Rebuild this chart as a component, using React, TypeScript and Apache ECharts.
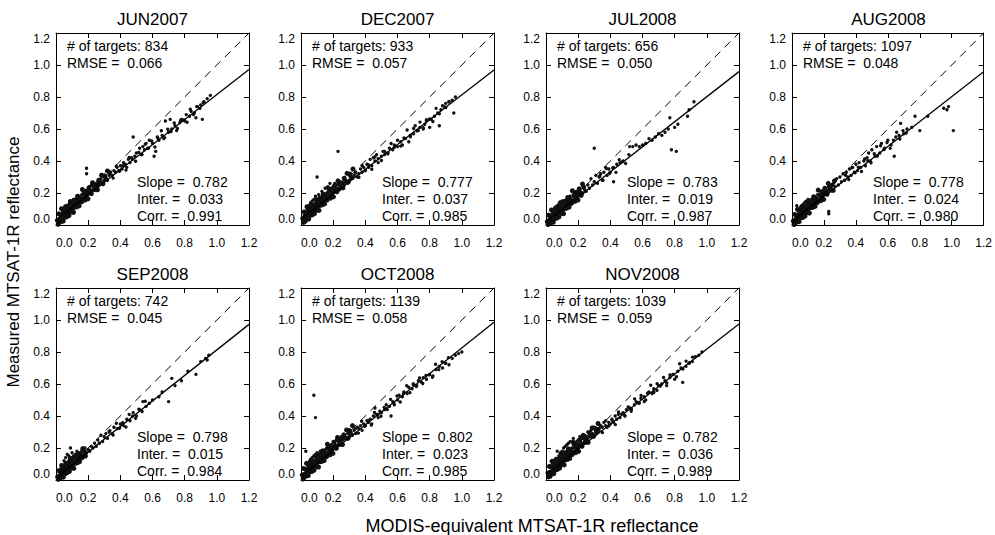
import React, { useEffect, useRef } from "react";
import * as echarts from "echarts";

// ---- data ----
const panelTitles = ["JUN2007", "DEC2007", "JUL2008", "AUG2008", "SEP2008", "OCT2008", "NOV2008"];
const targetCounts = [834, 933, 656, 1097, 742, 1139, 1039];
const rmseValues = [0.066, 0.057, 0.05, 0.048, 0.045, 0.058, 0.059];
const slopeValues = [0.782, 0.777, 0.783, 0.778, 0.798, 0.802, 0.782];
const interValues = [0.033, 0.037, 0.019, 0.024, 0.015, 0.023, 0.036];
const corrValues = [0.991, 0.985, 0.987, 0.98, 0.984, 0.985, 0.989];

const axisMin = 0;
const axisMax = 1.2;
const axisStep = 0.2;

const xTitle = "MODIS-equivalent MTSAT-1R reflectance";
const yTitle = "Measured MTSAT-1R reflectance";

// dense low-reflectance clusters (many overlapping targets)
const jun2007Dense = [[0.008,0.029],[0.013,0.004],[0.017,0.070],[0.022,0.033],[0.026,0.019],[0.029,0.064],[0.034,0.102],[0.037,0.035],[0.041,0.066],[0.045,0.025],[0.048,0.087],[0.052,0.064],[0.056,0.049],[0.059,0.115],[0.063,0.089],[0.067,0.051],[0.070,0.113],[0.074,0.074],[0.078,0.095],[0.081,0.059],[0.085,0.117],[0.089,0.147],[0.093,0.095],[0.097,0.081],[0.101,0.126],[0.105,0.114],[0.109,0.079],[0.113,0.155],[0.117,0.133],[0.121,0.113],[0.126,0.159],[0.130,0.114],[0.135,0.180],[0.139,0.140],[0.144,0.120],[0.149,0.171],[0.154,0.160],[0.159,0.144],[0.164,0.222],[0.169,0.160],[0.175,0.189],[0.181,0.156],[0.187,0.211],[0.193,0.198],[0.199,0.164],[0.206,0.234],[0.213,0.210],[0.220,0.196],[0.227,0.264],[0.234,0.245],[0.242,0.221],[0.250,0.252],[0.258,0.220],[0.266,0.280],[0.274,0.261],[0.283,0.311],[0.292,0.258],[0.301,0.307],[0.310,0.285],[0.320,0.338]];
const dec2007Dense = [[0.011,0.041],[0.016,0.016],[0.020,0.082],[0.025,0.045],[0.029,0.031],[0.032,0.076],[0.037,0.114],[0.040,0.047],[0.044,0.078],[0.048,0.037],[0.051,0.099],[0.055,0.076],[0.059,0.061],[0.062,0.127],[0.066,0.101],[0.070,0.063],[0.073,0.125],[0.077,0.086],[0.081,0.107],[0.084,0.071],[0.088,0.129],[0.092,0.159],[0.096,0.107],[0.100,0.093],[0.104,0.138],[0.108,0.126],[0.112,0.091],[0.116,0.167],[0.120,0.145],[0.124,0.125],[0.129,0.171],[0.133,0.126],[0.138,0.192],[0.142,0.152],[0.147,0.132],[0.152,0.183],[0.157,0.172],[0.162,0.156],[0.167,0.234],[0.172,0.172],[0.178,0.201],[0.184,0.168],[0.190,0.223],[0.196,0.210],[0.202,0.176],[0.209,0.246],[0.216,0.222],[0.223,0.208],[0.230,0.276],[0.237,0.257],[0.245,0.233],[0.253,0.264],[0.261,0.232],[0.269,0.292],[0.277,0.273],[0.286,0.323],[0.295,0.270],[0.304,0.319],[0.313,0.297],[0.323,0.350]];
const jul2008Dense = [[0.008,0.021],[0.013,0.003],[0.017,0.062],[0.022,0.025],[0.026,0.011],[0.029,0.056],[0.034,0.094],[0.037,0.027],[0.041,0.058],[0.045,0.017],[0.048,0.079],[0.052,0.056],[0.056,0.041],[0.059,0.107],[0.063,0.081],[0.067,0.043],[0.070,0.105],[0.074,0.066],[0.078,0.087],[0.081,0.051],[0.085,0.109],[0.089,0.139],[0.093,0.087],[0.097,0.073],[0.101,0.118],[0.105,0.106],[0.109,0.071],[0.113,0.147],[0.117,0.125],[0.121,0.105],[0.126,0.151],[0.130,0.106],[0.135,0.172],[0.139,0.132],[0.144,0.112],[0.149,0.163],[0.154,0.152],[0.159,0.136],[0.164,0.214],[0.169,0.152],[0.175,0.181],[0.181,0.148],[0.187,0.203],[0.193,0.190],[0.199,0.156],[0.206,0.226],[0.213,0.202],[0.220,0.188],[0.227,0.256],[0.234,0.237]];
const aug2008Dense = [[0.008,0.025],[0.013,0.003],[0.017,0.066],[0.022,0.029],[0.026,0.015],[0.029,0.060],[0.034,0.098],[0.037,0.031],[0.041,0.062],[0.045,0.021],[0.048,0.083],[0.052,0.060],[0.056,0.045],[0.059,0.111],[0.063,0.085],[0.067,0.047],[0.070,0.109],[0.074,0.070],[0.078,0.091],[0.081,0.055],[0.085,0.113],[0.089,0.143],[0.093,0.091],[0.097,0.077],[0.101,0.122],[0.105,0.110],[0.109,0.075],[0.113,0.151],[0.117,0.129],[0.121,0.109],[0.126,0.155],[0.130,0.110],[0.135,0.176],[0.139,0.136],[0.144,0.116],[0.149,0.167],[0.154,0.156],[0.159,0.140],[0.164,0.218],[0.169,0.156],[0.175,0.185],[0.181,0.152],[0.187,0.207],[0.193,0.194],[0.199,0.160],[0.206,0.230],[0.213,0.206],[0.220,0.192],[0.227,0.260],[0.234,0.241],[0.242,0.217],[0.250,0.248],[0.258,0.216],[0.266,0.276]];
const sep2008Dense = [[0.010,0.019],[0.014,0.004],[0.018,0.058],[0.023,0.027],[0.027,0.012],[0.031,0.053],[0.035,0.091],[0.038,0.029],[0.042,0.061],[0.046,0.018],[0.049,0.076],[0.053,0.058],[0.057,0.039],[0.061,0.103],[0.064,0.083],[0.068,0.045],[0.072,0.101],[0.075,0.068],[0.079,0.085],[0.083,0.053],[0.087,0.106],[0.090,0.134],[0.094,0.089],[0.098,0.075],[0.103,0.115],[0.107,0.104],[0.111,0.073],[0.115,0.142],[0.119,0.122],[0.123,0.107],[0.128,0.147],[0.132,0.108],[0.137,0.166],[0.141,0.130],[0.146,0.114],[0.151,0.158],[0.156,0.149],[0.161,0.138],[0.166,0.196],[0.171,0.150],[0.177,0.176],[0.183,0.150]];
const oct2008Dense = [[0.008,0.031],[0.013,0.006],[0.017,0.072],[0.022,0.035],[0.026,0.021],[0.029,0.066],[0.034,0.104],[0.037,0.037],[0.041,0.068],[0.045,0.027],[0.048,0.089],[0.052,0.066],[0.056,0.051],[0.059,0.117],[0.063,0.091],[0.067,0.053],[0.070,0.115],[0.074,0.076],[0.078,0.097],[0.081,0.061],[0.085,0.119],[0.089,0.149],[0.093,0.097],[0.097,0.083],[0.101,0.128],[0.105,0.116],[0.109,0.081],[0.113,0.157],[0.117,0.135],[0.121,0.115],[0.126,0.161],[0.130,0.116],[0.135,0.182],[0.139,0.142],[0.144,0.122],[0.149,0.173],[0.154,0.162],[0.159,0.146],[0.164,0.224],[0.169,0.162],[0.175,0.191],[0.181,0.158],[0.187,0.213],[0.193,0.200],[0.199,0.166],[0.206,0.236],[0.213,0.212],[0.220,0.198],[0.227,0.266],[0.234,0.247],[0.242,0.223],[0.250,0.254],[0.258,0.222],[0.266,0.282],[0.274,0.263],[0.283,0.313],[0.292,0.260],[0.301,0.309],[0.310,0.287],[0.320,0.340]];
const nov2008Dense = [[0.012,0.044],[0.017,0.019],[0.021,0.085],[0.026,0.048],[0.030,0.034],[0.033,0.079],[0.038,0.117],[0.041,0.050],[0.045,0.081],[0.049,0.040],[0.052,0.102],[0.056,0.079],[0.060,0.064],[0.063,0.130],[0.067,0.104],[0.071,0.066],[0.074,0.128],[0.078,0.089],[0.082,0.110],[0.085,0.074],[0.089,0.132],[0.093,0.162],[0.097,0.110],[0.101,0.096],[0.105,0.141],[0.109,0.129],[0.113,0.094],[0.117,0.170],[0.121,0.148],[0.125,0.128],[0.130,0.174],[0.134,0.129],[0.139,0.195],[0.143,0.155],[0.148,0.135],[0.153,0.186],[0.158,0.175],[0.163,0.159],[0.168,0.237],[0.173,0.175],[0.179,0.204],[0.185,0.171],[0.191,0.226],[0.197,0.213],[0.203,0.179],[0.210,0.249],[0.217,0.225],[0.224,0.211],[0.231,0.279],[0.238,0.260],[0.246,0.236],[0.254,0.267],[0.262,0.235],[0.270,0.295],[0.278,0.276],[0.287,0.326],[0.296,0.273],[0.305,0.322],[0.314,0.300],[0.324,0.353]];

// individual targets
const jun2007 = [[0.335,0.320],[0.355,0.293],[0.375,0.367],[0.395,0.336],[0.415,0.370],[0.435,0.343],[0.455,0.422],[0.475,0.410],[0.495,0.398],[0.515,0.454],[0.535,0.440],[0.555,0.504],[0.575,0.480],[0.595,0.525],[0.615,0.488],[0.635,0.539],[0.655,0.589],[0.675,0.546],[0.695,0.598],[0.715,0.584],[0.735,0.638],[0.755,0.603],[0.775,0.653],[0.795,0.657],[0.815,0.642],[0.835,0.724],[0.855,0.690],[0.875,0.740],[0.895,0.729],[0.915,0.765],
[0.01,0.02],[0.02,0.01],[0.02,0.04],[0.03,0.03],[0.03,0.06],[0.04,0.02],[0.04,0.05],[0.04,0.08],[0.05,0.04],[0.05,0.07],[0.05,0.10],[0.06,0.05],[0.06,0.08],[0.06,0.11],[0.07,0.06],[0.07,0.09],[0.07,0.12],[0.08,0.07],[0.08,0.10],[0.08,0.13],[0.09,0.08],[0.09,0.11],[0.09,0.14],[0.10,0.09],[0.10,0.12],[0.10,0.15],[0.11,0.10],[0.11,0.13],[0.11,0.16],[0.12,0.11],[0.12,0.14],[0.13,0.12],[0.13,0.15],[0.13,0.18],[0.14,0.13],[0.14,0.16],[0.15,0.14],[0.15,0.17],[0.16,0.15],[0.16,0.19],[0.17,0.16],[0.17,0.20],[0.18,0.17],[0.18,0.21],[0.19,0.18],[0.19,0.32],[0.19,0.355],[0.20,0.19],[0.20,0.23],[0.21,0.20],[0.21,0.24],[0.22,0.21],[0.22,0.25],[0.23,0.22],[0.24,0.23],[0.24,0.26],[0.25,0.24],[0.26,0.23],[0.26,0.27],[0.27,0.25],[0.28,0.26],[0.28,0.29],[0.29,0.27],[0.30,0.28],[0.31,0.30],[0.32,0.28],[0.33,0.31],[0.34,0.33],[0.35,0.31],[0.36,0.34],[0.37,0.33],[0.38,0.36],[0.39,0.34],[0.40,0.37],[0.41,0.35],[0.42,0.39],[0.43,0.38],[0.44,0.36],[0.45,0.41],[0.46,0.39],[0.47,0.42],[0.48,0.55],[0.49,0.43],[0.50,0.45],[0.52,0.48],[0.53,0.44],[0.54,0.49],[0.55,0.47],[0.56,0.51],[0.57,0.48],[0.58,0.53],[0.60,0.51],[0.61,0.43],[0.62,0.46],[0.63,0.55],[0.64,0.53],[0.66,0.56],[0.67,0.54],[0.68,0.65],[0.70,0.58],[0.71,0.66],[0.72,0.60],[0.74,0.62],[0.75,0.59],[0.77,0.64],[0.78,0.66],[0.80,0.65],[0.81,0.69],[0.83,0.68],[0.84,0.71],[0.86,0.70],[0.87,0.67],[0.88,0.74],[0.90,0.75],[0.91,0.66],[0.92,0.77],[0.94,0.79],[0.96,0.81]];

const dec2007 = [[0.34,0.325],[0.36,0.298],[0.38,0.372],[0.40,0.341],[0.42,0.375],[0.44,0.348],[0.46,0.427],[0.48,0.415],[0.50,0.403],[0.52,0.459],[0.54,0.445],[0.56,0.509],[0.58,0.485],[0.60,0.530],[0.62,0.493],[0.64,0.544],[0.66,0.594],[0.68,0.551],[0.70,0.603],[0.72,0.589],[0.74,0.643],[0.76,0.608],[0.78,0.658],[0.80,0.662],[0.82,0.647],[0.84,0.729],[0.86,0.695],[0.88,0.745],[0.90,0.734],[0.92,0.770],
[0.01,0.02],[0.02,0.03],[0.02,0.06],[0.03,0.02],[0.03,0.05],[0.03,0.08],[0.04,0.04],[0.04,0.07],[0.04,0.10],[0.05,0.05],[0.05,0.08],[0.05,0.12],[0.06,0.06],[0.06,0.10],[0.06,0.14],[0.07,0.07],[0.07,0.11],[0.07,0.15],[0.08,0.08],[0.08,0.12],[0.08,0.16],[0.09,0.09],[0.09,0.13],[0.09,0.18],[0.10,0.10],[0.10,0.14],[0.10,0.30],[0.11,0.11],[0.11,0.15],[0.11,0.19],[0.12,0.12],[0.12,0.16],[0.13,0.13],[0.13,0.17],[0.13,0.21],[0.14,0.14],[0.14,0.18],[0.15,0.15],[0.15,0.19],[0.15,0.23],[0.16,0.16],[0.16,0.20],[0.17,0.17],[0.17,0.21],[0.18,0.18],[0.18,0.22],[0.18,0.26],[0.19,0.19],[0.19,0.23],[0.20,0.20],[0.20,0.24],[0.21,0.21],[0.21,0.26],[0.22,0.22],[0.22,0.25],[0.23,0.23],[0.23,0.46],[0.24,0.22],[0.24,0.27],[0.25,0.24],[0.26,0.26],[0.27,0.25],[0.27,0.29],[0.28,0.27],[0.29,0.26],[0.30,0.28],[0.30,0.31],[0.32,0.29],[0.33,0.31],[0.34,0.33],[0.35,0.30],[0.36,0.32],[0.37,0.35],[0.38,0.33],[0.39,0.36],[0.40,0.34],[0.41,0.38],[0.42,0.36],[0.43,0.41],[0.44,0.37],[0.45,0.42],[0.46,0.40],[0.47,0.44],[0.48,0.39],[0.50,0.43],[0.51,0.46],[0.52,0.44],[0.54,0.45],[0.55,0.48],[0.57,0.47],[0.58,0.50],[0.60,0.49],[0.62,0.52],[0.63,0.50],[0.65,0.54],[0.67,0.52],[0.68,0.56],[0.70,0.57],[0.71,0.62],[0.73,0.59],[0.74,0.61],[0.76,0.60],[0.77,0.63],[0.78,0.65],[0.80,0.61],[0.81,0.66],[0.83,0.68],[0.85,0.70],[0.86,0.62],[0.87,0.72],[0.89,0.74],[0.90,0.76],[0.92,0.77],[0.94,0.78],[0.95,0.70],[0.96,0.80]];

const jul2008 = [[0.335,0.306],[0.355,0.279],[0.375,0.353],[0.395,0.322],[0.415,0.356],[0.435,0.329],[0.455,0.408],[0.475,0.396],[0.495,0.384],[0.515,0.440],
[0.01,0.01],[0.02,0.02],[0.02,0.04],[0.03,0.01],[0.03,0.03],[0.03,0.06],[0.04,0.02],[0.04,0.05],[0.04,0.08],[0.05,0.03],[0.05,0.06],[0.05,0.09],[0.06,0.04],[0.06,0.07],[0.06,0.10],[0.07,0.05],[0.07,0.08],[0.07,0.12],[0.08,0.06],[0.08,0.09],[0.08,0.13],[0.09,0.07],[0.09,0.10],[0.09,0.14],[0.10,0.08],[0.10,0.11],[0.10,0.15],[0.11,0.09],[0.11,0.13],[0.12,0.10],[0.12,0.14],[0.13,0.11],[0.13,0.16],[0.14,0.12],[0.14,0.17],[0.15,0.13],[0.15,0.18],[0.16,0.14],[0.17,0.15],[0.17,0.19],[0.18,0.16],[0.19,0.17],[0.19,0.21],[0.20,0.18],[0.21,0.19],[0.21,0.22],[0.22,0.18],[0.23,0.20],[0.24,0.22],[0.25,0.21],[0.26,0.25],[0.27,0.23],[0.28,0.29],[0.29,0.25],[0.30,0.48],[0.30,0.27],[0.31,0.31],[0.32,0.26],[0.33,0.30],[0.34,0.32],[0.35,0.28],[0.36,0.33],[0.37,0.36],[0.38,0.31],[0.39,0.35],[0.40,0.33],[0.42,0.27],[0.42,0.36],[0.44,0.38],[0.46,0.39],[0.48,0.40],[0.52,0.49],[0.54,0.49],[0.56,0.50],[0.58,0.49],[0.60,0.50],[0.62,0.51],[0.64,0.54],[0.66,0.53],[0.68,0.55],[0.70,0.57],[0.72,0.56],[0.74,0.58],[0.76,0.60],[0.77,0.67],[0.78,0.47],[0.80,0.61],[0.81,0.46],[0.82,0.63],[0.88,0.68],[0.89,0.72],[0.92,0.77]];

const aug2008 = [[0.335,0.311],[0.355,0.284],[0.375,0.358],[0.395,0.327],[0.415,0.361],[0.435,0.334],[0.455,0.413],[0.475,0.401],[0.495,0.389],[0.515,0.445],[0.535,0.431],[0.555,0.495],[0.575,0.471],[0.595,0.516],[0.615,0.479],[0.635,0.530],[0.655,0.580],[0.675,0.537],[0.695,0.589],[0.715,0.575],
[0.01,0.01],[0.02,0.02],[0.02,0.04],[0.03,0.02],[0.03,0.05],[0.03,0.12],[0.04,0.03],[0.04,0.06],[0.04,0.09],[0.05,0.04],[0.05,0.07],[0.05,0.10],[0.06,0.05],[0.06,0.08],[0.06,0.12],[0.07,0.06],[0.07,0.09],[0.07,0.13],[0.08,0.07],[0.08,0.10],[0.08,0.14],[0.09,0.08],[0.09,0.12],[0.10,0.09],[0.10,0.13],[0.10,0.16],[0.11,0.10],[0.11,0.14],[0.12,0.11],[0.12,0.15],[0.13,0.12],[0.13,0.16],[0.14,0.13],[0.14,0.18],[0.15,0.14],[0.15,0.17],[0.16,0.15],[0.16,0.19],[0.17,0.16],[0.18,0.17],[0.18,0.21],[0.19,0.18],[0.20,0.19],[0.20,0.22],[0.21,0.20],[0.22,0.21],[0.23,0.07],[0.23,0.085],[0.23,0.22],[0.24,0.24],[0.25,0.22],[0.26,0.26],[0.27,0.24],[0.28,0.29],[0.29,0.25],[0.30,0.30],[0.31,0.27],[0.32,0.32],[0.33,0.28],[0.34,0.33],[0.35,0.30],[0.36,0.35],[0.37,0.31],[0.38,0.36],[0.39,0.33],[0.40,0.38],[0.41,0.34],[0.42,0.39],[0.43,0.36],[0.45,0.40],[0.46,0.37],[0.47,0.42],[0.48,0.45],[0.49,0.40],[0.50,0.47],[0.52,0.43],[0.53,0.49],[0.55,0.45],[0.56,0.51],[0.58,0.48],[0.60,0.53],[0.62,0.50],[0.64,0.43],[0.65,0.55],[0.67,0.56],[0.68,0.635],[0.70,0.57],[0.72,0.60],[0.75,0.61],[0.77,0.68],[0.80,0.59],[0.85,0.68],[0.95,0.73],[0.97,0.72],[0.98,0.74],[1.01,0.59]];

const sep2008 = [[0.335,0.308],[0.355,0.281],[0.375,0.355],[0.395,0.324],[0.415,0.358],[0.435,0.331],[0.455,0.410],[0.475,0.398],[0.495,0.386],[0.515,0.442],[0.535,0.428],[0.555,0.492],
[0.01,0.01],[0.02,0.01],[0.02,0.03],[0.03,0.02],[0.03,0.04],[0.03,0.07],[0.04,0.02],[0.04,0.05],[0.04,0.08],[0.05,0.03],[0.05,0.06],[0.05,0.09],[0.05,0.12],[0.06,0.04],[0.06,0.07],[0.06,0.10],[0.06,0.14],[0.07,0.05],[0.07,0.08],[0.07,0.11],[0.07,0.16],[0.08,0.06],[0.08,0.09],[0.08,0.12],[0.08,0.15],[0.09,0.07],[0.09,0.10],[0.09,0.13],[0.09,0.20],[0.10,0.08],[0.10,0.11],[0.10,0.14],[0.10,0.17],[0.11,0.09],[0.11,0.12],[0.11,0.15],[0.12,0.10],[0.12,0.13],[0.12,0.16],[0.13,0.11],[0.13,0.14],[0.13,0.18],[0.14,0.12],[0.14,0.15],[0.15,0.13],[0.15,0.17],[0.16,0.14],[0.16,0.18],[0.17,0.15],[0.18,0.16],[0.18,0.20],[0.19,0.17],[0.20,0.19],[0.21,0.18],[0.22,0.21],[0.23,0.20],[0.24,0.23],[0.25,0.21],[0.26,0.25],[0.27,0.23],[0.28,0.28],[0.29,0.24],[0.30,0.27],[0.31,0.29],[0.32,0.26],[0.33,0.30],[0.35,0.29],[0.36,0.33],[0.38,0.32],[0.40,0.35],[0.42,0.34],[0.44,0.38],[0.46,0.37],[0.48,0.42],[0.50,0.40],[0.52,0.44],[0.54,0.49],[0.56,0.46],[0.58,0.48],[0.60,0.50],[0.64,0.52],[0.66,0.55],[0.70,0.49],[0.72,0.635],[0.74,0.59],[0.78,0.62],[0.82,0.68],[0.87,0.66],[0.90,0.74],[0.93,0.76],[0.94,0.75],[0.95,0.78]];

const oct2008 = [[0.337,0.320],[0.357,0.293],[0.377,0.367],[0.397,0.336],[0.417,0.370],[0.437,0.343],[0.457,0.422],[0.477,0.410],[0.497,0.398],[0.517,0.454],[0.537,0.440],[0.557,0.504],[0.577,0.480],[0.597,0.525],[0.617,0.488],[0.637,0.539],[0.657,0.589],[0.677,0.546],[0.697,0.598],[0.717,0.584],[0.737,0.638],[0.757,0.603],[0.777,0.653],[0.797,0.657],[0.817,0.642],[0.837,0.724],[0.857,0.690],[0.877,0.740],[0.897,0.729],[0.917,0.765],
[0.01,0.02],[0.02,0.01],[0.02,0.04],[0.03,0.03],[0.03,0.06],[0.03,0.18],[0.04,0.04],[0.04,0.07],[0.04,0.10],[0.05,0.05],[0.05,0.08],[0.05,0.11],[0.06,0.06],[0.06,0.09],[0.06,0.13],[0.07,0.07],[0.07,0.10],[0.07,0.14],[0.08,0.08],[0.08,0.11],[0.08,0.15],[0.08,0.53],[0.09,0.09],[0.09,0.12],[0.09,0.16],[0.09,0.39],[0.10,0.10],[0.10,0.13],[0.10,0.17],[0.11,0.11],[0.11,0.14],[0.12,0.12],[0.12,0.15],[0.12,0.18],[0.13,0.13],[0.13,0.16],[0.14,0.14],[0.14,0.18],[0.15,0.15],[0.15,0.19],[0.16,0.16],[0.16,0.20],[0.17,0.17],[0.17,0.21],[0.18,0.18],[0.19,0.19],[0.19,0.22],[0.20,0.20],[0.20,0.24],[0.21,0.21],[0.22,0.20],[0.22,0.25],[0.23,0.22],[0.24,0.24],[0.25,0.23],[0.25,0.27],[0.26,0.25],[0.27,0.28],[0.28,0.26],[0.29,0.29],[0.30,0.27],[0.31,0.30],[0.32,0.28],[0.33,0.31],[0.34,0.29],[0.35,0.33],[0.36,0.32],[0.37,0.34],[0.38,0.31],[0.39,0.35],[0.40,0.34],[0.41,0.37],[0.42,0.36],[0.43,0.38],[0.44,0.35],[0.45,0.40],[0.46,0.45],[0.47,0.41],[0.48,0.39],[0.49,0.43],[0.50,0.42],[0.52,0.44],[0.53,0.47],[0.55,0.46],[0.56,0.40],[0.57,0.49],[0.58,0.47],[0.60,0.50],[0.61,0.53],[0.63,0.52],[0.64,0.55],[0.66,0.54],[0.67,0.58],[0.69,0.57],[0.70,0.60],[0.72,0.59],[0.73,0.62],[0.75,0.61],[0.76,0.64],[0.78,0.63],[0.80,0.66],[0.82,0.65],[0.84,0.69],[0.86,0.71],[0.88,0.70],[0.90,0.73],[0.92,0.72],[0.94,0.76],[0.96,0.78],[0.98,0.79],[1.00,0.80]];

const nov2008 = [[0.331,0.323],[0.351,0.296],[0.371,0.370],[0.391,0.339],[0.411,0.373],[0.431,0.346],[0.451,0.425],[0.471,0.413],[0.491,0.401],[0.511,0.457],[0.531,0.443],[0.551,0.507],[0.571,0.483],[0.591,0.528],[0.611,0.491],[0.631,0.542],[0.651,0.592],[0.671,0.549],[0.691,0.601],[0.711,0.587],[0.731,0.641],[0.751,0.606],[0.771,0.656],[0.791,0.660],[0.811,0.645],[0.831,0.727],[0.851,0.693],[0.871,0.743],[0.891,0.732],[0.911,0.768],
[0.01,0.02],[0.02,0.03],[0.02,0.05],[0.03,0.02],[0.03,0.05],[0.03,0.08],[0.04,0.04],[0.04,0.07],[0.04,0.10],[0.05,0.05],[0.05,0.08],[0.05,0.12],[0.06,0.06],[0.06,0.09],[0.06,0.13],[0.07,0.07],[0.07,0.11],[0.07,0.18],[0.08,0.08],[0.08,0.12],[0.08,0.15],[0.09,0.09],[0.09,0.13],[0.09,0.17],[0.10,0.10],[0.10,0.14],[0.10,0.18],[0.11,0.11],[0.11,0.15],[0.11,0.20],[0.12,0.12],[0.12,0.16],[0.12,0.21],[0.13,0.13],[0.13,0.17],[0.13,0.22],[0.14,0.14],[0.14,0.18],[0.14,0.23],[0.15,0.15],[0.15,0.19],[0.15,0.24],[0.16,0.16],[0.16,0.20],[0.17,0.17],[0.17,0.22],[0.17,0.26],[0.18,0.18],[0.18,0.23],[0.19,0.19],[0.19,0.24],[0.20,0.20],[0.20,0.25],[0.21,0.21],[0.21,0.27],[0.22,0.22],[0.22,0.26],[0.23,0.23],[0.24,0.24],[0.24,0.28],[0.25,0.25],[0.26,0.26],[0.26,0.30],[0.27,0.27],[0.28,0.28],[0.28,0.31],[0.29,0.29],[0.30,0.28],[0.30,0.33],[0.31,0.30],[0.32,0.32],[0.33,0.31],[0.34,0.34],[0.35,0.33],[0.36,0.36],[0.37,0.34],[0.38,0.33],[0.39,0.36],[0.40,0.35],[0.41,0.38],[0.42,0.36],[0.43,0.40],[0.44,0.38],[0.45,0.41],[0.46,0.39],[0.48,0.42],[0.49,0.40],[0.50,0.44],[0.52,0.45],[0.53,0.43],[0.55,0.47],[0.56,0.49],[0.58,0.48],[0.59,0.51],[0.61,0.52],[0.62,0.50],[0.64,0.55],[0.66,0.54],[0.67,0.57],[0.69,0.56],[0.70,0.59],[0.72,0.60],[0.74,0.62],[0.75,0.59],[0.77,0.64],[0.79,0.66],[0.80,0.63],[0.82,0.68],[0.84,0.70],[0.85,0.61],[0.87,0.71],[0.89,0.73],[0.91,0.74],[0.93,0.77],[0.95,0.78],[0.97,0.80]];

const panelDense = [jun2007Dense, dec2007Dense, jul2008Dense, aug2008Dense, sep2008Dense, oct2008Dense, nov2008Dense];
const panelPoints = [jun2007, dec2007, jul2008, aug2008, sep2008, oct2008, nov2008];

// ---- layout ----
const colLefts = [56, 301, 546, 792];
const rowTops = [33, 288];
const plotW = 193;
const plotH = 192;
const FONT = '"Liberation Sans", Arial, Helvetica, sans-serif';

export default function App() {
  const ref = useRef<HTMLDivElement>(null);

  useEffect(() => {
    if (!ref.current) return;
    const chart = echarts.init(ref.current, undefined, { renderer: "svg" });

    const grids: any[] = [];
    const xAxes: any[] = [];
    const yAxes: any[] = [];
    const series: any[] = [];
    const graphics: any[] = [];

    const axisLine = { show: true, onZero: false, lineStyle: { color: "#000", width: 1 } };
    const axisTick = { show: true, inside: true, length: 5, lineStyle: { color: "#000", width: 1 } };

    panelTitles.forEach((title, i) => {
      const left = colLefts[i % 4];
      const top = rowTops[Math.floor(i / 4)];
      grids.push({ left, top, width: plotW, height: plotH, containLabel: false, show: false });

      const base = {
        gridIndex: i,
        type: "value",
        min: axisMin,
        max: axisMax,
        interval: axisStep,
        splitLine: { show: false },
        axisLine,
        axisTick,
      };
      xAxes.push({
        ...base,
        position: "bottom",
        axisLabel: {
          color: "#000",
          fontSize: 12,
          fontFamily: FONT,
          margin: 12,
          alignMinLabel: "left",
          formatter: (v: number) => v.toFixed(1),
        },
      });
      xAxes.push({ ...base, position: "top", axisLabel: { show: false } });
      yAxes.push({
        ...base,
        position: "left",
        axisLabel: {
          color: "#000",
          fontSize: 12,
          fontFamily: FONT,
          margin: 6,
          verticalAlignMinLabel: "bottom",
          verticalAlignMaxLabel: "top",
          formatter: (v: number) => v.toFixed(1),
        },
      });
      yAxes.push({ ...base, position: "right", axisLabel: { show: false } });

      const slope = slopeValues[i];
      const inter = interValues[i];

      series.push({
        type: "scatter",
        xAxisIndex: 2 * i,
        yAxisIndex: 2 * i,
        data: panelDense[i],
        symbol: "circle",
        symbolSize: 5,
        itemStyle: { color: "#111", opacity: 1 },
        silent: true,
        z: 2,
      });
      series.push({
        type: "scatter",
        xAxisIndex: 2 * i,
        yAxisIndex: 2 * i,
        data: panelPoints[i],
        symbol: "circle",
        symbolSize: 3.4,
        itemStyle: { color: "#111", opacity: 1 },
        silent: true,
        z: 2,
      });
      series.push({
        type: "line",
        xAxisIndex: 2 * i,
        yAxisIndex: 2 * i,
        data: [
          [axisMin, axisMin],
          [axisMax, axisMax],
        ],
        symbol: "none",
        lineStyle: { color: "#000", width: 1, type: [8, 6] },
        silent: true,
        z: 3,
      });
      series.push({
        type: "line",
        xAxisIndex: 2 * i,
        yAxisIndex: 2 * i,
        data: [
          [axisMin, inter + slope * axisMin],
          [axisMax, inter + slope * axisMax],
        ],
        symbol: "none",
        lineStyle: { color: "#000", width: 1.3, type: "solid" },
        silent: true,
        z: 3,
      });

      const txt = (x: number, y: number, text: string, size: number, align = "left") => ({
        type: "text",
        x,
        y,
        silent: true,
        style: {
          text,
          fill: "#000",
          fontSize: size,
          fontFamily: FONT,
          textAlign: align,
          textVerticalAlign: "middle",
        },
      });

      graphics.push(txt(left + plotW / 2, top - 14, title, 17, "center"));
      graphics.push(txt(left + 11, top + 13, `# of targets: ${targetCounts[i]}`, 14));
      graphics.push(txt(left + 11, top + 30, `RMSE =  ${rmseValues[i].toFixed(3)}`, 14));
      graphics.push(txt(left + 81, top + 149, `Slope =  ${slope.toFixed(3)}`, 14));
      graphics.push(txt(left + 81, top + 166, `Inter. =  ${inter.toFixed(3)}`, 14));
      graphics.push(txt(left + 81, top + 183, `Corr. =  ${corrValues[i].toFixed(3)}`, 14));
    });

    graphics.push({
      type: "text",
      x: 532,
      y: 526,
      silent: true,
      style: {
        text: xTitle,
        fill: "#000",
        fontSize: 18,
        fontFamily: FONT,
        textAlign: "center",
        textVerticalAlign: "middle",
      },
    });
    graphics.push({
      type: "text",
      x: 13,
      y: 262,
      rotation: Math.PI / 2,
      silent: true,
      style: {
        text: yTitle,
        fill: "#000",
        fontSize: 17,
        fontFamily: FONT,
        textAlign: "center",
        textVerticalAlign: "middle",
      },
    });

    chart.setOption({
      animation: false,
      backgroundColor: "#fff",
      textStyle: { fontFamily: FONT },
      grid: grids,
      xAxis: xAxes,
      yAxis: yAxes,
      series,
      graphic: graphics,
    });

    return () => chart.dispose();
  }, []);

  return (
    <div
      ref={ref}
      style={{ position: "fixed", left: 0, top: 0, width: 995, height: 535, background: "#fff" }}
    />
  );
}
